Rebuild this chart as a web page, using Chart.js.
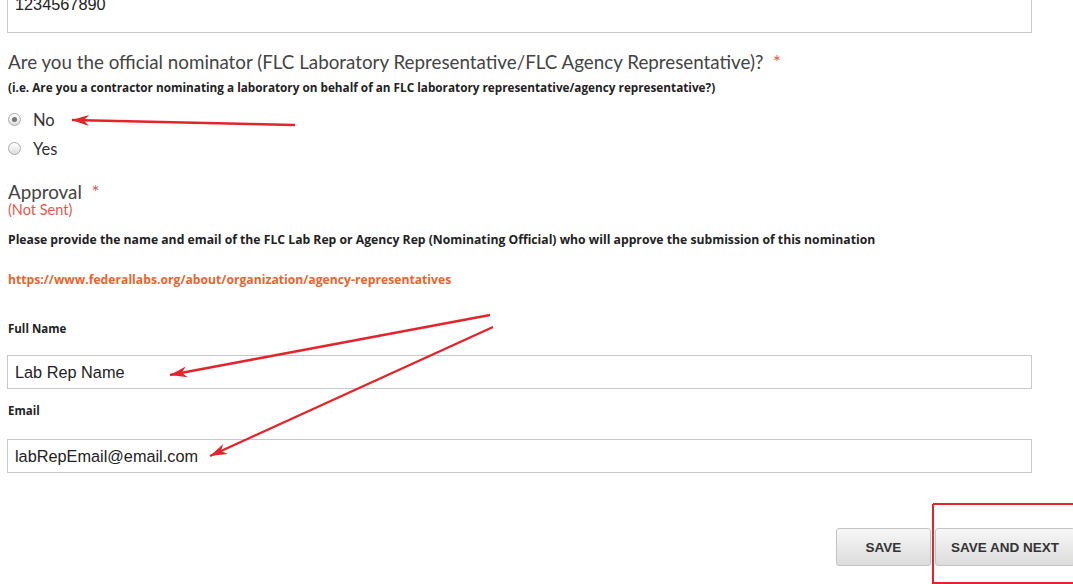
<!DOCTYPE html>
<html>
<head>
<meta charset="utf-8">
<script src="https://cdn.jsdelivr.net/npm/chart.js@4"></script>
<style>
  body{margin:0;background:#fff;width:1073px;height:584px;overflow:hidden;position:relative;font-family:Lato,"Open Sans",sans-serif;color:#333}
  .t{position:absolute;white-space:nowrap}
  .box{position:absolute;left:7px;width:1025px;border:1px solid #c8c8c8;background:#fff;box-sizing:border-box}
  .inp{position:absolute;left:15px;font-family:"Liberation Sans",Arial,sans-serif;font-size:16.3px;color:#222;line-height:20px}
  .q{font-size:18.8px;line-height:22px;color:#444}
  .star{color:#e05a4e}
  .small{font-family:"Open Sans",sans-serif;font-size:12px;font-weight:bold;line-height:15px;color:#222}
  .radio{position:absolute;left:8px;width:11px;height:11px;border-radius:50%;border:1px solid #aaa;background:linear-gradient(#fff,#ddd)}
  .radio.on::after{content:"";position:absolute;left:3px;top:3px;width:5px;height:5px;border-radius:50%;background:#777}
  .btn{position:absolute;top:528px;height:38px;border:1px solid #c4c4c4;border-radius:3px;background:linear-gradient(#f7f7f7,#dcdcdc);font-family:"Liberation Sans",Arial,sans-serif;font-weight:bold;font-size:13.5px;color:#333;line-height:38px;text-align:center;box-sizing:border-box}
  #overlay{position:absolute;left:0;top:0}
</style>
</head>
<body>
  <div class="box" style="top:-2px;height:35px"></div>
  <div class="inp" style="top:-6px">1234567890</div>

  <div class="t q" style="left:8px;top:51px">Are you the official nominator (FLC Laboratory Representative/FLC Agency Representative)? &nbsp;<span class="star">*</span></div>
  <div class="t small" style="left:8px;top:80px;font-size:11.75px">(i.e. Are you a contractor nominating a laboratory on behalf of an FLC laboratory representative/agency representative?)</div>

  <div class="radio on" style="top:113px"></div>
  <div class="t" style="left:33px;top:110px;font-size:16.5px;line-height:20px">No</div>
  <div class="radio" style="top:142px"></div>
  <div class="t" style="left:33px;top:139px;font-size:16.5px;line-height:20px">Yes</div>

  <div class="t q" style="left:8px;top:181px">Approval &nbsp;<span class="star">*</span></div>
  <div class="t" style="left:8px;top:202px;font-size:14.5px;line-height:16px;color:#e05a4e">(Not Sent)</div>
  <div class="t small" style="left:8px;top:232px;font-size:12.2px">Please provide the name and email of the FLC Lab Rep or Agency Rep (Nominating Official) who will approve the submission of this nomination</div>
  <div class="t small" style="left:8px;top:272px;font-size:12.2px;color:#e8652e">https://www.federallabs.org/about/organization/agency-representatives</div>

  <div class="t small" style="left:8px;top:321px;font-size:11.5px">Full Name</div>
  <div class="box" style="top:355px;height:34px"></div>
  <div class="inp" style="top:362px">Lab Rep Name</div>

  <div class="t small" style="left:8px;top:403px;font-size:11.5px">Email</div>
  <div class="box" style="top:439px;height:34px"></div>
  <div class="inp" style="top:446px">labRepEmail@email.com</div>

  <div class="btn" style="left:836px;width:95px">SAVE</div>
  <div class="btn" style="left:935px;width:140px">SAVE AND NEXT</div>

  <canvas id="overlay" width="1073" height="584"></canvas>

<script>
// arrow tails and tips (page pixels)
const arrowNo    = [{x:295,y:125},{x:72,y:120}];
const arrowName  = [{x:490,y:315},{x:170,y:375}];
const arrowEmail = [{x:493,y:327},{x:210,y:456}];
// red box round SAVE AND NEXT
const highlightBox = [{x:933,y:504},{x:1078,y:504},{x:1078,y:583},{x:933,y:583},{x:933,y:504}];

const red = '#e3242b';

// draws a filled head at the last point of each arrow dataset
const arrowHeads = {
  id:'arrowHeads',
  afterDatasetsDraw(chart){
    const c = chart.ctx;
    chart.data.datasets.forEach((ds,i)=>{
      if(!ds.arrow) return;
      const pts = chart.getDatasetMeta(i).data;
      const a = pts[pts.length-2], b = pts[pts.length-1];
      const ang = Math.atan2(b.y-a.y, b.x-a.x);
      const len = 17, w = 5.5;
      c.save();
      c.fillStyle = red;
      c.beginPath();
      c.moveTo(b.x, b.y);
      c.lineTo(b.x-len*Math.cos(ang)+w*Math.sin(ang), b.y-len*Math.sin(ang)-w*Math.cos(ang));
      c.lineTo(b.x-len*0.7*Math.cos(ang), b.y-len*0.7*Math.sin(ang));
      c.lineTo(b.x-len*Math.cos(ang)-w*Math.sin(ang), b.y-len*Math.sin(ang)+w*Math.cos(ang));
      c.closePath();
      c.fill();
      c.restore();
    });
  }
};

function arrowSet(pts){
  return {data:pts, arrow:true, borderColor:red, borderWidth:2.4, pointRadius:0, fill:false, tension:0};
}

new Chart(document.getElementById('overlay'), {
  type:'line',
  data:{datasets:[
    arrowSet(arrowNo),
    arrowSet(arrowName),
    arrowSet(arrowEmail),
    {data:highlightBox, borderColor:red, borderWidth:2, pointRadius:0, fill:false, tension:0}
  ]},
  options:{
    responsive:false, animation:false, events:[],
    layout:{padding:0},
    plugins:{legend:{display:false},tooltip:{enabled:false}},
    scales:{
      x:{type:'linear',min:0,max:1073,display:false},
      y:{type:'linear',min:0,max:584,reverse:true,display:false}
    }
  },
  plugins:[arrowHeads]
});
</script>
</body>
</html>
